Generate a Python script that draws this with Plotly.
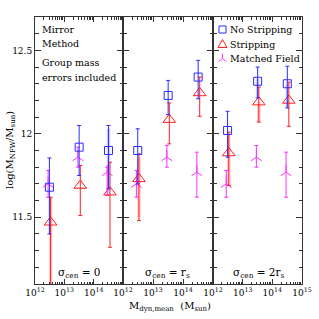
import plotly.graph_objects as go

# ---------------- data ----------------
panel_labels = ["σ<sub>cen</sub> = 0", "σ<sub>cen</sub> = r<sub>s</sub>", "σ<sub>cen</sub> = 2r<sub>s</sub>"]
series_names = ["No Stripping", "Stripping", "Matched Field"]

# dynamical mass of each bin (Msun), per series (slight offsets as in the figure)
mass_nostrip = [3.1e12, 3.2e13, 3.2e14]
mass_strip = [3.4e12, 3.5e13, 3.6e14]
mass_matched = [2.8e12, 2.9e13, 2.9e14]

# log(M_NFW/Msun) per panel [sigma=0, r_s, 2r_s]
nostrip_val = [[11.68, 11.92, 11.90], [11.90, 12.23, 12.34], [12.02, 12.315, 12.30]]
nostrip_lo = [[11.40, 11.75, 11.67], [11.70, 12.115, 12.21], [11.86, 12.215, 12.155]]
nostrip_hi = [[11.855, 12.05, 12.05], [12.03, 12.32, 12.44], [12.135, 12.40, 12.405]]

strip_val = [[11.47, 11.69, 11.65], [11.73, 12.085, 12.245], [11.885, 12.19, 12.20]]
strip_lo = [[10.90, 11.51, 11.32], [11.48, 11.94, 12.105], [11.69, 12.07, 12.045]]
strip_hi = [[11.62, 11.81, 11.83], [11.88, 12.185, 12.34], [12.01, 12.28, 12.31]]

matched_val = [[11.70, 11.86, 11.77], [11.70, 11.86, 11.77], [11.70, 11.86, 11.77]]
matched_lo = [[11.62, 11.80, 11.63], [11.62, 11.80, 11.62], [11.62, 11.80, 11.62]]
matched_hi = [[11.78, 11.92, 11.80], [11.78, 11.93, 11.89], [11.78, 11.93, 11.89]]

# faint (wide) error shading seen behind some points
nostrip_shade_lo = [[None, None, 11.63], [None, None, None], [None, 12.22, 12.16]]
nostrip_shade_hi = [[None, None, 12.03], [None, None, None], [None, 12.33, 12.30]]
strip_shade_lo = [[10.90, None, None], [11.50, None, None], [11.69, 12.07, None]]
strip_shade_hi = [[11.62, None, None], [11.86, None, None], [12.00, 12.19, None]]

x_tickvals = [[1e12, 1e13, 1e14], [1e12, 1e13, 1e14], [1e12, 1e13, 1e14, 1e15]]
x_ticktext = [["10<sup>12</sup>", "10<sup>13</sup>", "10<sup>14</sup>"],
              ["10<sup>12</sup>", "10<sup>13</sup>", "10<sup>14</sup>"],
              ["10<sup>12</sup>", "10<sup>13</sup>", "10<sup>14</sup>", "10<sup>15</sup>"]]
y_tickvals = [11.5, 12.0, 12.5]
y_ticktext = ["11.5", "12", "12.5"]

# ---------------- style ----------------
FONT = "DejaVu Serif"
BLUE = "#2b2bff"
RED = "#ff2020"
MAG = "#ff30ff"
AXC = "#333333"

fig = go.Figure()

def err(vals, lo, hi):
    return dict(type="data", symmetric=False,
                array=[h - v for v, h in zip(vals, hi)],
                arrayminus=[v - l for v, l in zip(vals, lo)])

def shade_trace(xs, lo, hi, color, xa, ya):
    xx, mid, up, dn = [], [], [], []
    for x, l, h in zip(xs, lo, hi):
        if l is None:
            continue
        xx.append(x); m = (l + h) / 2
        mid.append(m); up.append(h - m); dn.append(m - l)
    if not xx:
        return
    fig.add_trace(go.Scatter(x=xx, y=mid, mode="markers", xaxis=xa, yaxis=ya,
                             marker=dict(size=1, color="rgba(0,0,0,0)"),
                             error_y=dict(type="data", symmetric=False, array=up, arrayminus=dn,
                                          color=color, thickness=3.5, width=0),
                             showlegend=False, hoverinfo="skip"))

minor_x = [m * 10 ** e for e in (12, 13, 14) for m in range(2, 10)]

for p in range(3):
    xa = "x" if p == 0 else f"x{p+1}"
    ya = "y" if p == 0 else f"y{p+1}"
    shade_trace(mass_nostrip, nostrip_shade_lo[p], nostrip_shade_hi[p], "rgba(90,90,255,0.28)", xa, ya)
    shade_trace(mass_strip, strip_shade_lo[p], strip_shade_hi[p], "rgba(255,60,60,0.28)", xa, ya)

    fig.add_trace(go.Scatter(
        x=mass_matched, y=matched_val[p], mode="markers", xaxis=xa, yaxis=ya,
        name=series_names[2], showlegend=False,
        marker=dict(symbol="y-up", size=9, color=MAG, line=dict(color=MAG, width=1)),
        error_y=dict(err(matched_val[p], matched_lo[p], matched_hi[p]), color=MAG, thickness=1, width=2)))
    fig.add_trace(go.Scatter(
        x=mass_strip, y=strip_val[p], mode="markers", xaxis=xa, yaxis=ya,
        name=series_names[1], showlegend=False,
        marker=dict(symbol="triangle-up-open", size=11, color=RED, line=dict(color=RED, width=1)),
        error_y=dict(err(strip_val[p], strip_lo[p], strip_hi[p]), color=RED, thickness=1, width=2)))
    fig.add_trace(go.Scatter(
        x=mass_nostrip, y=nostrip_val[p], mode="markers", xaxis=xa, yaxis=ya,
        name=series_names[0], showlegend=False,
        marker=dict(symbol="square-open", size=8, color=BLUE, line=dict(color=BLUE, width=1)),
        error_y=dict(err(nostrip_val[p], nostrip_lo[p], nostrip_hi[p]), color=BLUE, thickness=1, width=2)))

domains = [[0, 88 / 267], [88 / 267, 178 / 267], [178 / 267, 1]]
layout = dict(
    width=319, height=319, paper_bgcolor="white", plot_bgcolor="white",
    margin=dict(l=35, r=17, t=17, b=35), showlegend=False,
    font=dict(family=FONT, size=9, color="black"),
)
for p in range(3):
    xk = "xaxis" if p == 0 else f"xaxis{p+1}"
    yk = "yaxis" if p == 0 else f"yaxis{p+1}"
    layout[xk] = dict(
        domain=domains[p], type="log", range=[12, 15], anchor="y" if p == 0 else f"y{p+1}",
        showline=True, linecolor=AXC, linewidth=1, mirror="allticks", automargin=False,
        ticks="inside", ticklen=5, tickcolor=AXC, tickwidth=1,
        tickmode="array", tickvals=x_tickvals[p], ticktext=x_ticktext[p],
        tickfont=dict(family=FONT, size=9),
        minor=dict(ticks="inside", ticklen=2.5, tickcolor=AXC, tickmode="array", tickvals=minor_x, showgrid=False),
        showgrid=False, zeroline=False, fixedrange=True)
    layout[yk] = dict(
        domain=[0, 1], range=[11.1, 12.7], anchor="x" if p == 0 else f"x{p+1}",
        showline=True, linecolor=AXC, linewidth=1, mirror="allticks", automargin=False,
        ticks="inside", ticklen=6, tickcolor=AXC, tickwidth=1,
        tickmode="array", tickvals=y_tickvals, ticktext=y_ticktext,
        showticklabels=(p == 0), tickfont=dict(family=FONT, size=9),
        minor=dict(ticks="inside", ticklen=3.5, tickcolor=AXC, dtick=0.1, showgrid=False),
        showgrid=False, zeroline=False, fixedrange=True)
    if p > 0:
        layout[yk]["matches"] = "y"
fig.update_layout(**layout)

ann = []
for i, t in enumerate(["Mirror", "Method", "Group mass", "errors included"]):
    ann.append(dict(text=t, x=40, y=[29, 43.5, 63, 77.5][i],
                    xanchor="left", yanchor="middle", showarrow=False, font=dict(family=FONT, size=9.5)))
centers = [79, 167, 259]
for p in range(3):
    ann.append(dict(text=panel_labels[p], x=centers[p], y=273, xanchor="center", yanchor="middle",
                    showarrow=False, font=dict(family=FONT, size=10.5)))
leg_y = [29.5, 44, 58.5]
for i, t in enumerate(series_names):
    ann.append(dict(text=t, x=228, y=leg_y[i], xanchor="left", yanchor="middle", showarrow=False,
                    font=dict(family=FONT, size=9.5)))
ann.append(dict(text="log(M<sub>NFW</sub>/M<sub>sun</sub>)", x=10, y=150, textangle=-90,
                xanchor="center", yanchor="middle", showarrow=False, font=dict(family=FONT, size=10)))
ann.append(dict(text="M<sub>dyn,mean</sub>  (M<sub>sun</sub>)", x=170, y=306,
                xanchor="center", yanchor="middle", showarrow=False, font=dict(family=FONT, size=10)))

# convert pixel positions to paper coordinates
W0, W1, H0, H1 = 35, 302, 17, 284
for a in ann:
    a["x"] = (a["x"] - W0) / (W1 - W0)
    a["y"] = (H1 - a["y"]) / (H1 - H0)
    a["xref"] = "paper"
    a["yref"] = "paper"
fig.update_layout(annotations=ann)

# legend keys (drawn as pixel-sized shapes)
def px(xp):
    return (xp - W0) / (W1 - W0)
def py(yp):
    return (H1 - yp) / (H1 - H0)
kx = 222.5
shapes = [
    dict(type="rect", xref="paper", yref="paper", xsizemode="pixel", ysizemode="pixel",
         xanchor=px(kx), yanchor=py(leg_y[0]), x0=-3.5, x1=3.5, y0=-3.5, y1=3.5,
         line=dict(color=BLUE, width=1)),
    dict(type="path", xref="paper", yref="paper", xsizemode="pixel", ysizemode="pixel",
         xanchor=px(kx), yanchor=py(leg_y[1]), path="M -4.5 -3.5 L 4.5 -3.5 L 0 4.5 Z",
         line=dict(color=RED, width=1)),
    dict(type="path", xref="paper", yref="paper", xsizemode="pixel", ysizemode="pixel",
         xanchor=px(kx), yanchor=py(leg_y[2]), path="M 0 0 L 0 5 M 0 0 L -4 -3 M 0 0 L 4 -3",
         line=dict(color=MAG, width=1)),
]
fig.update_layout(shapes=shapes)

fig.write_html("out.html", config={"displayModeBar": False, "staticPlot": True},
               post_script="document.body.style.margin='0';document.body.style.overflow='hidden';")
